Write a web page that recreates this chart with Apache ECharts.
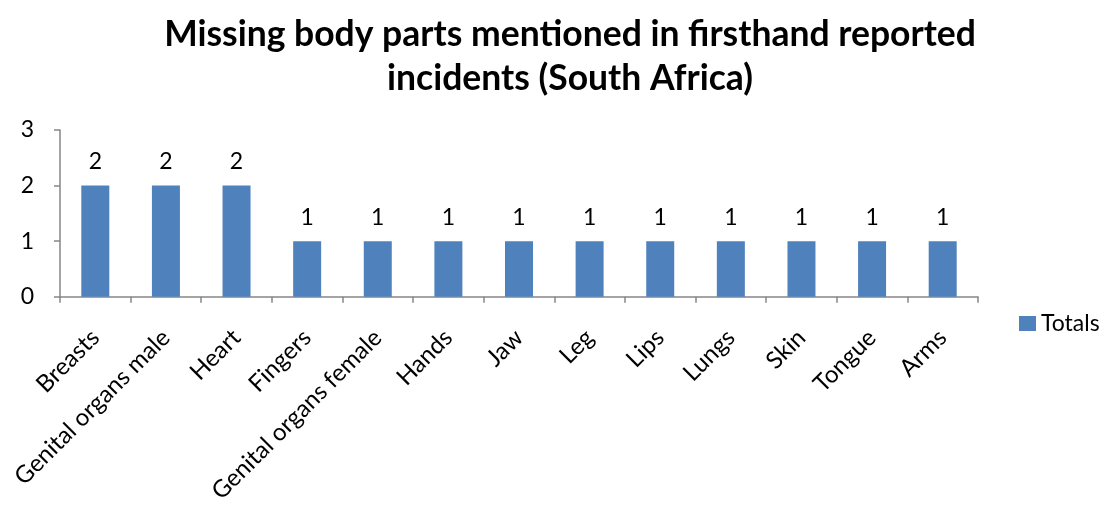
<!DOCTYPE html>
<html>
<head>
<meta charset="utf-8">
<script src="https://cdn.jsdelivr.net/npm/echarts@6/dist/echarts.min.js"></script>
<style>
  html, body { margin: 0; padding: 0; background: #fff; }
  #chart { width: 1107px; height: 506px; }
</style>
</head>
<body>
<div id="chart"></div>
<script>
  // body parts named in the reports
  var bodyParts = ['Breasts', 'Genital organs male', 'Heart', 'Fingers', 'Genital organs female',
    'Hands', 'Jaw', 'Leg', 'Lips', 'Lungs', 'Skin', 'Tongue', 'Arms'];
  var totals = [2, 2, 2, 1, 1, 1, 1, 1, 1, 1, 1, 1, 1];
  var yTicks = [0, 1, 2, 3];

  var font = 'Lato, "Liberation Sans", sans-serif';
  var axisGray = '#868686';

  var myChart = echarts.init(document.getElementById('chart'));
  myChart.setOption({
    animation: false,
    title: {
      text: 'Missing body parts mentioned in firsthand reported\nincidents (South Africa)',
      left: 565,
      top: 8,
      textAlign: 'center',
      textStyle: {
        fontFamily: font,
        fontWeight: 'bold',
        fontSize: 35.5,
        lineHeight: 44,
        color: '#000'
      }
    },
    legend: {
      data: ['Totals'],
      left: 1019,
      top: 312,
      padding: 0,
      itemWidth: 17,
      itemHeight: 15,
      itemGap: 6,
      icon: 'rect',
      textStyle: { fontFamily: font, fontSize: 23, color: '#000' }
    },
    grid: { left: 60, right: 129, top: 130, bottom: 208, containLabel: false },
    xAxis: {
      type: 'category',
      data: bodyParts,
      axisLine: { lineStyle: { color: axisGray, width: 1.5 } },
      axisTick: { show: true, length: 6, lineStyle: { color: axisGray, width: 1.5 } },
      axisLabel: {
        rotate: 45,
        interval: 0,
        margin: 37,
        fontFamily: font,
        fontSize: 24,
        color: '#000'
      }
    },
    yAxis: {
      type: 'value',
      min: 0,
      max: yTicks[yTicks.length - 1],
      interval: 1,
      splitLine: { show: false },
      axisLine: { show: true, lineStyle: { color: axisGray, width: 1.5 } },
      axisTick: { show: true, length: 6, lineStyle: { color: axisGray, width: 1.5 } },
      axisLabel: { margin: 26, fontFamily: font, fontSize: 23, color: '#000' }
    },
    series: [
      {
        name: 'Totals',
        type: 'bar',
        data: totals,
        barWidth: 28,
        itemStyle: { color: '#4F81BD' },
        label: {
          show: true,
          position: 'top',
          distance: 12,
          fontFamily: font,
          fontSize: 23,
          color: '#000'
        }
      }
    ]
  });
</script>
</body>
</html>
